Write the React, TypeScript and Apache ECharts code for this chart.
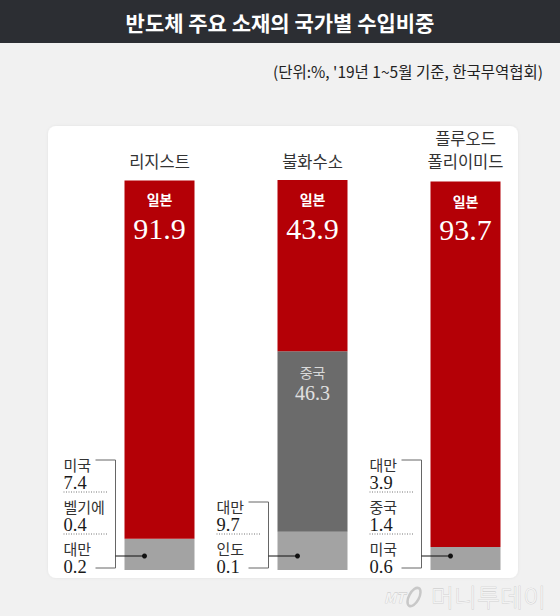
import React, { useEffect, useRef } from "react";
import * as echarts from "echarts";

const titleText = "반도체 주요 소재의 국가별 수입비중";
const subtitleText = "(단위:%, '19년 1~5월 기준, 한국무역협회)";
const categories = ["리지스트", "불화수소", "플루오드\n폴리이미드"];
const japanShare = [91.9, 43.9, 93.7];
const chinaShare = [null, 46.3, null];
const minorNames = [
  ["미국", "벨기에", "대만"],
  ["대만", "인도"],
  ["대만", "중국", "미국"],
];
const minorValues = [
  [7.4, 0.4, 0.2],
  [9.7, 0.1],
  [3.9, 1.4, 0.6],
];
const minorTotal = minorValues.map((a) => Math.round(a.reduce((s, v) => s + v, 0) * 10) / 10);

const KR = '"Noto Sans CJK KR", "Noto Sans", sans-serif';
const SERIF = '"Liberation Serif", "DejaVu Serif", serif';

export default function App() {
  const ref = useRef<HTMLDivElement>(null);
  useEffect(() => {
    if (!ref.current) return;
    const chart = echarts.init(ref.current, undefined, { renderer: "svg" });
    const barW = 70;
    chart.setOption({
      animation: false,
      backgroundColor: "#f1f1f1",
      grid: { top: 180, bottom: 46, left: 83, right: 18 },
      xAxis: {
        type: "category",
        data: categories,
        position: "top",
        axisLine: { show: false },
        axisTick: { show: false },
        axisLabel: {
          margin: 8,
          fontFamily: KR,
          fontSize: 16.5,
          lineHeight: 23,
          color: "#333",
        },
      },
      yAxis: { type: "value", min: 0, max: 100, show: false },
      series: [
        {
          name: "기타",
          type: "bar",
          stack: "s",
          barWidth: barW,
          data: minorTotal,
          itemStyle: { color: "#a3a3a3" },
        },
        {
          name: "중국",
          type: "bar",
          stack: "s",
          barWidth: barW,
          data: chinaShare,
          itemStyle: { color: "#6b6b6b" },
          label: {
            show: true,
            position: "insideTop",
            distance: 10,
            formatter: "{a|중국}\n{b|{c}}",
            rich: {
              a: { fontFamily: KR, fontSize: 14, color: "#d9d9d9", lineHeight: 22 },
              b: { fontFamily: SERIF, fontSize: 20, color: "#e0e0e0", lineHeight: 20 },
            },
          },
        },
        {
          name: "일본",
          type: "bar",
          stack: "s",
          barWidth: barW,
          data: japanShare,
          itemStyle: { color: "#b40006" },
          label: {
            show: true,
            position: "insideTop",
            distance: 7,
            formatter: "{a|일본}\n{b|{c}}",
            rich: {
              a: { fontFamily: KR, fontSize: 14, fontWeight: "bold", color: "#fff", lineHeight: 24 },
              b: { fontFamily: SERIF, fontSize: 30, color: "#fff", lineHeight: 34 },
            },
          },
        },
      ],
    });

    const y0 = chart.convertToPixel({ yAxisIndex: 0 }, 0) as number;
    const graphics: any[] = [
      { type: "rect", z: -10, shape: { x: 0, y: 0, width: 560, height: 43 }, style: { fill: "#2c2e33" } },
      {
        type: "text",
        z: 10,
        x: 280,
        y: 22,
        style: { text: titleText, font: `bold 21px ${KR}`, fill: "#fff", align: "center", verticalAlign: "middle" },
      },
      {
        type: "text",
        z: 10,
        x: 543,
        y: 71,
        style: { text: subtitleText, font: `15.5px ${KR}`, fill: "#222", align: "right", verticalAlign: "middle" },
      },
      {
        type: "rect",
        z: -10,
        shape: { x: 48, y: 126, width: 470, height: 452, r: 8 },
        style: { fill: "#ffffff", shadowBlur: 3, shadowColor: "rgba(0,0,0,0.06)" },
      },
      {
        type: "text",
        z: 10,
        x: 384,
        y: 597,
        style: { text: "MT", font: `italic bold 14px ${KR}`, fill: "#f3f3f3", stroke: "#c4c4c4", lineWidth: 0.6, verticalAlign: "middle" },
      },
      {
        type: "ellipse",
        z: 10,
        x: 414,
        y: 597,
        rotation: -0.5,
        shape: { cx: 0, cy: 0, rx: 5, ry: 10 },
        style: { fill: "none", stroke: "#c8c8c8", lineWidth: 2.5 },
      },
      {
        type: "text",
        z: 10,
        x: 546,
        y: 596,
        style: { text: "머니투데이", font: `300 25px ${KR}`, fill: "#f3f3f3", stroke: "#c4c4c4", lineWidth: 0.6, align: "right", verticalAlign: "middle" },
      },
    ];

    categories.forEach((_, i) => {
      const cx = chart.convertToPixel({ xAxisIndex: 0 }, i) as number;
      const barLeft = cx - barW / 2;
      const textLeft = barLeft - 61;
      const bracketX = barLeft - 9;
      const names = minorNames[i];
      const vals = minorValues[i];
      const n = names.length;
      let topNameY = 0;
      names.forEach((nm, k) => {
        const j = n - 1 - k;
        const nameY = y0 - 22 - 42 * j;
        if (k === 0) topNameY = nameY;
        graphics.push({
          type: "text",
          z: 20,
          x: textLeft,
          y: nameY - 9,
          style: {
            text: `{n|${nm}}\n{v|${vals[k].toFixed(1)}}`,
            verticalAlign: "top",
            rich: {
              n: { fontFamily: KR, fontSize: 15, fill: "#333", lineHeight: 18 },
              v: { fontFamily: SERIF, fontSize: 18.5, fill: "#1a1a1a", lineHeight: 20 },
            },
          },
        });
        if (k > 0) {
          graphics.push({
            type: "line",
            z: 20,
            shape: { x1: textLeft, y1: nameY - 14, x2: textLeft + 44, y2: nameY - 14 },
            style: { stroke: "#777", lineWidth: 1, lineDash: [1, 1.5] },
          });
        }
      });
      graphics.push({
        type: "polyline",
        z: 20,
        shape: {
          points: [
            [textLeft + 32, topNameY - 4],
            [bracketX, topNameY - 4],
            [bracketX, y0 - 2],
            [textLeft + 32, y0 - 2],
          ],
        },
        style: { stroke: "#666", lineWidth: 1, fill: "none" },
      });
      graphics.push({
        type: "line",
        z: 20,
        shape: { x1: bracketX, y1: y0 - 14, x2: barLeft + 20, y2: y0 - 14 },
        style: { stroke: "#111", lineWidth: 1 },
      });
      graphics.push({
        type: "circle",
        z: 21,
        shape: { cx: barLeft + 20, cy: y0 - 14, r: 2.5 },
        style: { fill: "#111" },
      });
    });

    chart.setOption({ graphic: graphics });
    return () => chart.dispose();
  }, []);
  return (
    <div
      ref={ref}
      style={{ position: "absolute", left: 0, top: 0, width: 560, height: 616 }}
    />
  );
}
